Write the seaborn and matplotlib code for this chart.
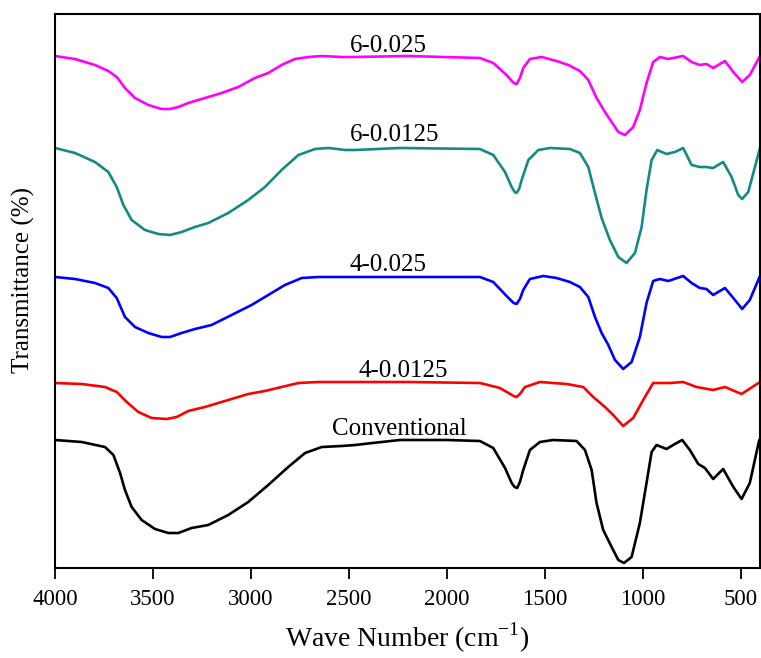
import numpy as np
import pandas as pd
import matplotlib
matplotlib.use("Agg")
import matplotlib.pyplot as plt
import seaborn as sns

# ---- data (wavenumber in cm^-1, transmittance in arbitrary offset units) ----
wn_m = [4000, 3898, 3796, 3728, 3685, 3643, 3592, 3524, 3456, 3413, 3371, 3320, 3235, 3150, 3065,
        2980, 2912, 2844, 2776, 2707, 2639, 2537, 2469, 2200,
        1832, 1764, 1696, 1660, 1645, 1628, 1611, 1577, 1517, 1441, 1381, 1322, 1279, 1237, 1194,
        1160, 1126, 1092, 1050, 1016, 982, 948, 914, 871, 795, 752, 710, 676, 642, 582, 539, 494,
        455, 403]
t_m = [512, 509, 503, 497, 491, 480, 470, 463, 459, 459, 461, 465, 470, 475, 481,
       490, 495, 503, 509, 511, 512, 511, 511, 512,
       510, 505, 493, 485, 484, 490, 500, 509, 511, 507, 503, 497, 488, 470, 456,
       446, 436, 433, 441, 458, 485, 506, 511, 509, 512, 506, 503, 504, 500, 507, 496, 486,
       493, 512]

wn_t = [4000, 3898, 3796, 3728, 3685, 3651, 3609, 3541, 3473, 3413, 3354, 3286, 3218, 3116, 3014,
        2929, 2844, 2758, 2673, 2605, 2520, 2469, 2240,
        1832, 1764, 1704, 1670, 1655, 1645, 1632, 1619, 1585, 1534, 1475, 1373, 1322, 1279, 1245,
        1211, 1169, 1126, 1084, 1041, 1007, 982, 956, 927, 880, 837, 795, 752, 710, 676, 642,
        591, 548, 514, 494, 463, 403]
t_t = [420, 415, 406, 396, 381, 363, 348, 338, 334, 333, 336, 341, 345, 355, 368,
       381, 398, 413, 419, 420, 418, 418, 420,
       419, 413, 396, 381, 376, 375, 379, 388, 408, 418, 420, 419, 415, 401, 375,
       350, 328, 311, 305, 315, 341, 378, 408, 418, 414, 416, 420, 403, 401, 401, 400,
       406, 391, 373, 369, 376, 420]

wn_b = [4000, 3898, 3796, 3728, 3685, 3643, 3592, 3524, 3456, 3413, 3354, 3286, 3201, 3099, 2997,
        2912, 2827, 2741, 2656, 2554, 2469, 2200,
        1832, 1764, 1696, 1660, 1645, 1628, 1611, 1577, 1509, 1441, 1373, 1322, 1279, 1245, 1211,
        1177, 1143, 1101, 1058, 1016, 982, 948, 914, 871, 795, 752, 710, 676, 642, 582, 539, 494,
        455, 403]
t_b = [291, 289, 285, 280, 270, 251, 241, 235, 231, 231, 235, 239, 243, 253, 263,
       273, 283, 290, 291, 291, 291, 291,
       291, 286, 272, 265, 264, 269, 278, 289, 292, 290, 286, 281, 271, 251, 235,
       223, 208, 199, 206, 231, 265, 287, 289, 287, 292, 285, 280, 279, 273, 280, 270, 259,
       268, 292]

wn_r = [4000, 3864, 3745, 3685, 3634, 3575, 3507, 3430, 3379, 3320, 3235, 3116, 3014, 2929, 2844,
        2758, 2656, 2469, 2200,
        1832, 1730, 1660, 1645, 1628, 1602, 1526, 1390, 1305, 1254, 1194, 1152, 1101, 1050, 999,
        948, 863, 795, 727, 642, 582, 497, 403]
t_r = [185, 184, 181, 176, 166, 156, 150, 149, 151, 157, 161, 168, 174, 177, 181,
       185, 186, 186, 186,
       185, 180, 172, 171, 174, 181, 186, 184, 181, 171, 161, 153, 142, 150, 168,
       185, 185, 186, 181, 178, 181, 174, 186]

wn_k = [4000, 3864, 3745, 3702, 3668, 3643, 3609, 3558, 3490, 3422, 3371, 3303, 3218, 3116, 3014,
        2912, 2810, 2724, 2639, 2537, 2469, 2380, 2240, 2000,
        1832, 1764, 1704, 1670, 1655, 1642, 1628, 1611, 1577, 1526, 1458, 1339, 1296, 1262, 1237,
        1203, 1160, 1126, 1097, 1058, 1016, 982, 956, 931, 880, 837, 800, 761, 718, 684, 642,
        591, 539, 497, 455, 407]
t_k = [128, 126, 121, 113, 95, 78, 61, 48, 39, 35, 35, 40, 43, 53, 66,
       83, 101, 115, 121, 122, 123, 125, 128, 128,
       127, 120, 100, 85, 81, 80, 86, 98, 118, 126, 128, 127, 118, 98, 65,
       38, 21, 8, 5, 11, 45, 85, 116, 123, 119, 124, 128, 118, 104, 100, 89,
       99, 81, 69, 85, 128]

series_names = ["6-0.025", "6-0.0125", "4-0.025", "4-0.0125", "Conventional"]
series_colors = ["#ff00ff", "#138a85", "#0000ff", "#ff0000", "#000000"]
x_ticks = [4000, 3500, 3000, 2500, 2000, 1500, 1000, 500]

# label anchor points (wavenumber, transmittance)
label_wn = [2301, 2265, 2301, 2224, 2245]
label_t = [516, 427, 297, 191, 133]

# ---- build long-form table ----
frames = []
for name, wn, t in zip(series_names, [wn_m, wn_t, wn_b, wn_r, wn_k], [t_m, t_t, t_b, t_r, t_k]):
    frames.append(pd.DataFrame({"wn": wn, "T": t, "sample": name}))
df = pd.concat(frames, ignore_index=True)

sns.set_theme(style="white")
plt.rcParams["font.family"] = ["Liberation Serif", "DejaVu Serif"]
plt.rcParams["mathtext.fontset"] = "custom"
plt.rcParams["mathtext.rm"] = "Liberation Serif"

fig = plt.figure(figsize=(7.61, 6.58), dpi=100)
ax = fig.add_axes([55 / 761, 1 - 568 / 658, 705 / 761, 554 / 658])

sns.lineplot(data=df, x="wn", y="T", hue="sample", hue_order=series_names,
             palette=dict(zip(series_names, series_colors)), sort=False,
             linewidth=1.9, legend=False, ax=ax, estimator=None)

for name, x, y in zip(series_names, label_wn, label_t):
    ax.text(x, y, name, ha="center", va="baseline", fontsize=18, color="black")

ax.set_xlim(4000, 403)
ax.set_ylim(0, 554)
ax.set_xticks(x_ticks)
ax.set_xticklabels([str(v) for v in x_ticks], fontsize=16.5)
ax.set_yticks([])
ax.tick_params(axis="x", direction="out", length=8, width=1.3, color="black",
               bottom=True, pad=7, labelcolor="black")
for s in ax.spines.values():
    s.set_color("black")
    s.set_linewidth(1.5)

ax.set_xlabel("Wave Number (cm$^{-1}$)", fontsize=20, color="black", labelpad=8)
ax.set_ylabel("Transmittance (%)", fontsize=18, color="black")
ax.yaxis.set_label_coords(-0.029, 0.52)

fig.savefig("out.png", dpi=100)
